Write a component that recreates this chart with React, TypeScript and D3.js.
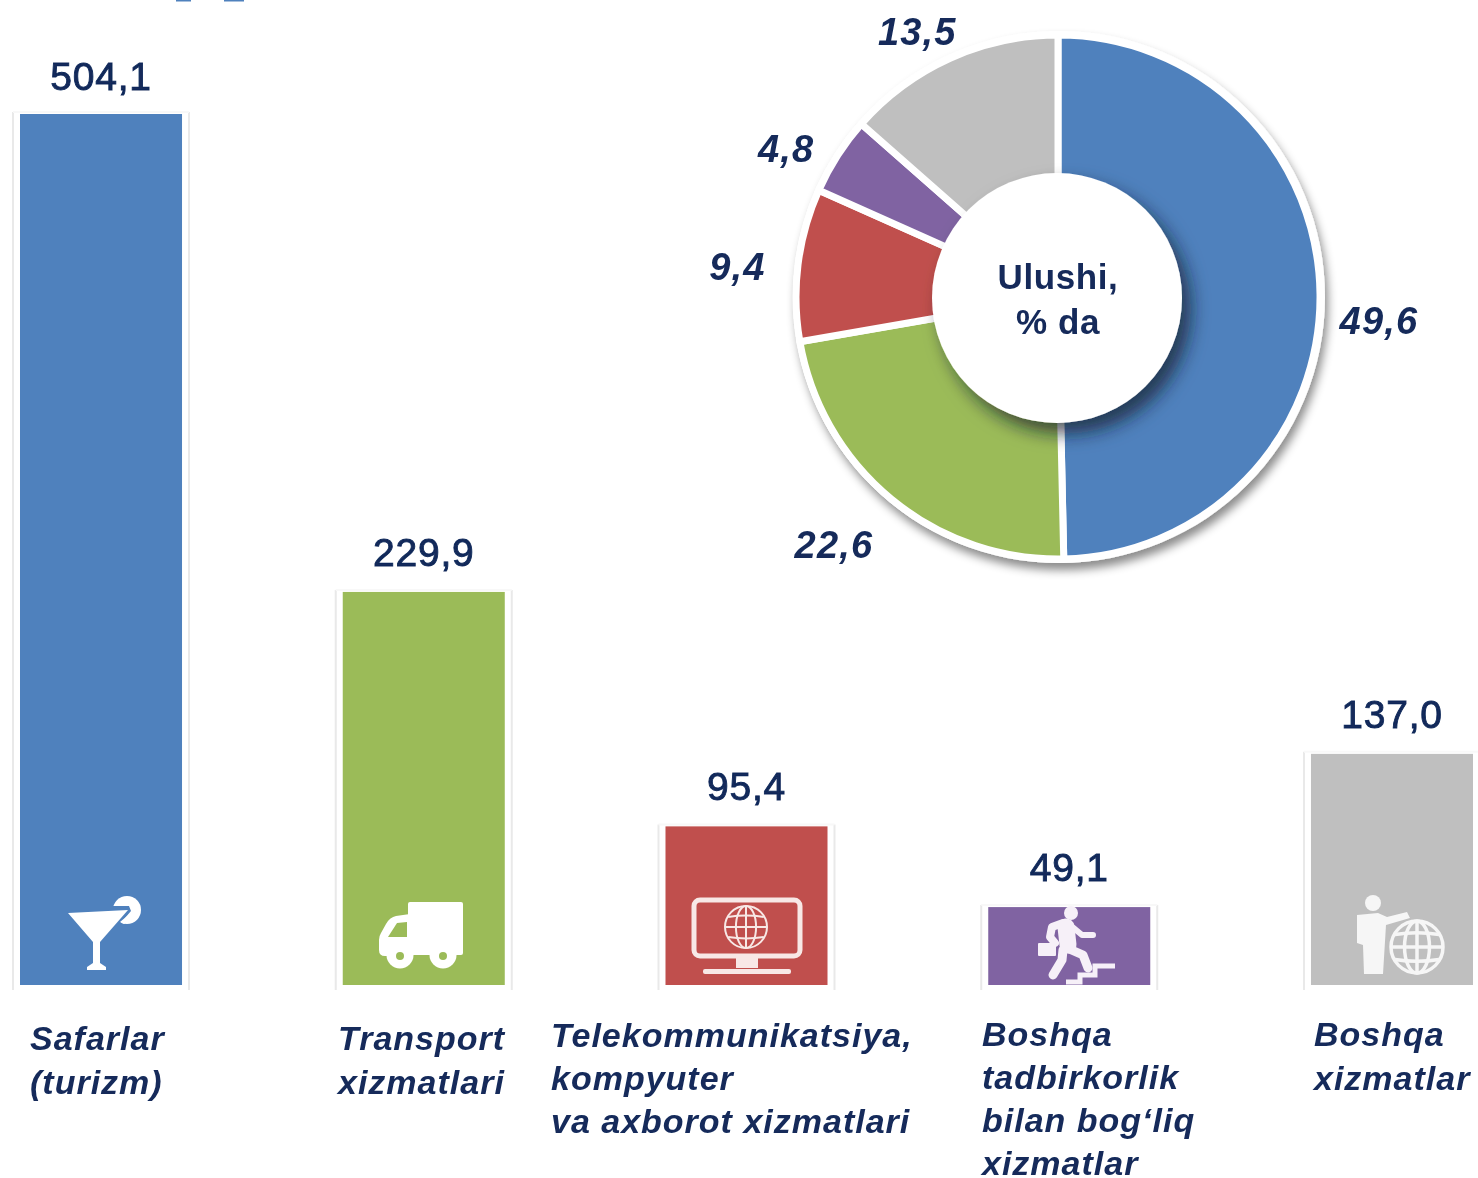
import React from "react";
import * as d3 from "d3";

const categories = ["Safarlar (turizm)", "Transport xizmatlari", "Telekommunikatsiya, kompyuter va axborot xizmatlari", "Boshqa tadbirkorlik bilan bog‘liq xizmatlar", "Boshqa xizmatlar"];
const barValues = [504.1, 229.9, 95.4, 49.1, 137.0];
const barLabels = ["504,1", "229,9", "95,4", "49,1", "137,0"];
const categoryLines = [
  ["Safarlar", "(turizm)"],
  ["Transport", "xizmatlari"],
  ["Telekommunikatsiya,", "kompyuter", "va axborot xizmatlari"],
  ["Boshqa", "tadbirkorlik", "bilan bog‘liq", "xizmatlar"],
  ["Boshqa", "xizmatlar"],
];
const shareValues = [49.6, 22.6, 9.4, 4.8, 13.5];
const shareLabels = ["49,6", "22,6", "9,4", "4,8", "13,5"];
const colors = ["#4f81bd", "#9bbb59", "#c0504d", "#8064a2", "#bfbfbf"];

const W = 1478, H = 1178;
const BASE = 985, TOP = 114;
const INK = "#12295a";
const FONT = "'Liberation Sans', Arial, sans-serif";
const labelX = [30, 338, 551, 982, 1314];
const labelY = [1050, 1050, 1047, 1046, 1046];
const labelStep = [44, 44, 43, 43, 44];
const valueGap = [24, 26, 26, 26, 26];
const pieNudge = [[11, 27], [-27, 9], [-13, 8], [-11, 19], [-13, 17]];

const x = d3.scaleBand<string>().domain(categories).range([20, 1473]).paddingInner(0.498).paddingOuter(0);
const y = d3.scaleLinear().domain([4.4, 504.1]).range([BASE, TOP]);

const cx = 1058, cy = 297;
const pie = d3.pie<number>().sort(null).value((d) => d);
const arc = d3.arc<d3.PieArcDatum<number>>().innerRadius(110).outerRadius(262);
const labelArc = d3.arc<d3.PieArcDatum<number>>().innerRadius(310).outerRadius(310);
const slices = pie(shareValues);

function Globe({ gx, gy, r, sw, color }: { gx: number; gy: number; r: number; sw: number; color: string }) {
  return (
    <g fill="none" stroke={color} strokeWidth={sw}>
      <circle cx={gx} cy={gy} r={r} />
      <ellipse cx={gx} cy={gy} rx={r * 0.48} ry={r} />
      <line x1={gx} x2={gx} y1={gy - r} y2={gy + r} />
      <line x1={gx - r} x2={gx + r} y1={gy} y2={gy} />
      <path d={`M${gx - r * 0.85} ${gy - r * 0.48}Q${gx} ${gy - r * 0.62} ${gx + r * 0.85} ${gy - r * 0.48}`} />
      <path d={`M${gx - r * 0.85} ${gy + r * 0.48}Q${gx} ${gy + r * 0.62} ${gx + r * 0.85} ${gy + r * 0.48}`} />
    </g>
  );
}

function Icons() {
  const w = "#ffffff";
  return (
    <g>
      {/* cocktail */}
      <circle cx={127} cy={910} r={14} fill={w} />
      <path d="M110 906L129 906L131 911L120 924L110 920Z" fill="#4f81bd" />
      <path d="M68 913L128 910L100 942L100 963L106 967L106 970L87 970L87 967L93 963L93 942Z" fill={w} />
      <path d="M120 922L132 912L132 919L124 924Z" fill={w} />
      {/* truck */}
      <g fill={w}>
        <rect x={408} y={902} width={55} height={53} rx={2} />
        <path d="M410 914L396 916Q390 917 386 924L381 933Q379 936 379 940L379 950Q379 956 385 956L410 956Z" />
        <circle cx={400} cy={955} r={13.5} />
        <circle cx={443} cy={955} r={13.5} />
      </g>
      <path d="M407 922L397 923L388 937L407 937Z" fill="#9bbb59" />
      <circle cx={400} cy={956} r={4} fill="#9bbb59" />
      <circle cx={443} cy={956} r={4} fill="#9bbb59" />
      {/* monitor */}
      <rect x={694} y={900} width={106} height={56} rx={6} fill="none" stroke="#f8e8e6" strokeWidth={5} />
      <rect x={736} y={958} width={22} height={10} fill="#f8e8e6" />
      <rect x={703} y={969} width={88} height={5} rx={2} fill="#f8e8e6" />
      <Globe gx={746} gy={927} r={21} sw={2} color="#f8e8e6" />
      {/* runner */}
      <g fill="none" stroke="#f6f0f8" strokeLinecap="round" strokeLinejoin="round">
        <path d="M1066 927L1068 945" strokeWidth={17} />
        <path d="M1063 923L1052 927L1050 937L1055 943" strokeWidth={8} />
        <path d="M1070 925L1082 935L1093 935" strokeWidth={6} />
        <path d="M1067 948L1083 955L1088 968" strokeWidth={9} />
        <path d="M1063 950L1062 960L1053 975" strokeWidth={9} />
        <path d="M1115 966L1095 966L1095 975L1080 975L1080 982L1066 982" strokeWidth={5} strokeLinecap="butt" strokeLinejoin="miter" />
      </g>
      <circle cx={1071} cy={913} r={7} fill="#f6f0f8" />
      <rect x={1038} y={943} width={18} height={13} rx={1} fill="#f6f0f8" />
      {/* man with globe */}
      <circle cx={1373} cy={903} r={8} fill="#f6f6f6" />
      <path d="M1357 915L1378 913L1387 917L1407 912L1410 918L1386 925L1383 974L1364 974L1363 945L1357 943Z" fill="#f6f6f6" />
      <Globe gx={1417} gy={947} r={26} sw={3.5} color="#f6f6f6" />
    </g>
  );
}

export default function App() {
  return (
    <svg width={W} height={H} viewBox={`0 0 ${W} ${H}`} style={{ position: "absolute", left: 0, top: 0, display: "block", background: "#fff" }}>
      <defs>
        <filter id="soft" x="-2%" y="-2%" width="104%" height="104%">
          <feGaussianBlur stdDeviation={0.6} />
        </filter>
        <filter id="outer" x="-15%" y="-15%" width="130%" height="130%">
          <feDropShadow dx={3} dy={7} stdDeviation={5} floodColor="#000" floodOpacity={0.45} />
        </filter>
        <filter id="inner" x="-30%" y="-30%" width="160%" height="160%">
          <feDropShadow dx={9} dy={11} stdDeviation={9} floodColor="#0d1a2c" floodOpacity={0.7} />
        </filter>
      </defs>
      <g filter="url(#soft)">
        <rect x={176} y={-2} width={15} height={3.5} fill="#4f81bd" />
        <rect x={224} y={-2} width={20} height={3.5} fill="#4f81bd" />

        {barValues.map((v, i) => {
          const c = categories[i];
          const bx = x(c)!;
          const bw = x.bandwidth();
          const by = y(v);
          return (
            <g key={c}>
              <path d={`M${bx - 7} ${by - 2}V${BASE + 5}M${bx + bw + 7} ${by - 2}V${BASE + 5}`} stroke="#e9e9e9" strokeWidth={2} fill="none" />
              <path d={`M${bx - 7} ${by - 2}H${bx + bw + 7}`} stroke="#f8f8f8" strokeWidth={2} fill="none" />
              <rect x={bx} y={by} width={bw} height={BASE - by} fill={colors[i]} />
              <text x={bx + bw / 2} y={by - valueGap[i]} textAnchor="middle" fontFamily={FONT} fontSize={39} letterSpacing={0.8} fill={INK} stroke={INK} strokeWidth={0.9}>
                {barLabels[i]}
              </text>
              <text fontFamily={FONT} fontSize={34} letterSpacing={1} fontWeight={700} fontStyle="italic" fill={INK}>
                {categoryLines[i].map((line, j) => (
                  <tspan key={j} x={labelX[i]} y={labelY[i] + j * labelStep[i]}>{line}</tspan>
                ))}
              </text>
            </g>
          );
        })}

        <Icons />

        <circle cx={cx + 1} cy={cy} r={266} fill="#fff" filter="url(#outer)" />
        <g transform={`translate(${cx},${cy})`}>
          {slices.map((s, i) => (
            <path key={i} d={arc(s)!} fill={colors[i]} stroke="#fff" strokeWidth={7} strokeLinejoin="miter" />
          ))}
          <circle cx={-1} cy={1} r={125} fill="#fff" filter="url(#inner)" />
          {slices.map((s, i) => {
            const [lx, ly] = labelArc.centroid(s);
            return (
              <text key={i} x={lx + pieNudge[i][0]} y={ly + pieNudge[i][1]} textAnchor="middle" dominantBaseline="central" fontFamily={FONT} fontSize={38} letterSpacing={1.2} fontWeight={700} fontStyle="italic" fill={INK}>
                {shareLabels[i]}
              </text>
            );
          })}
          <text textAnchor="middle" fontFamily={FONT} fontSize={35} letterSpacing={0.6} fontWeight={700} fill={INK}>
            <tspan x={0} y={-8}>Ulushi,</tspan>
            <tspan x={0} y={37}>% da</tspan>
          </text>
        </g>
      </g>
    </svg>
  );
}
